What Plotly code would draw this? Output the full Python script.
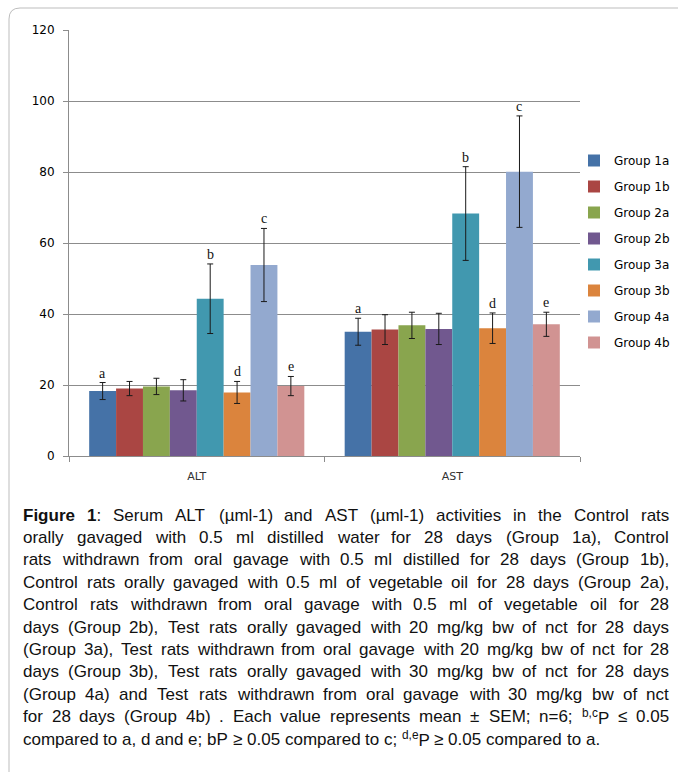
import plotly.graph_objects as go

# ---------------- data ----------------
categories = ["ALT", "AST"]
groups = ["Group 1a", "Group 1b", "Group 2a", "Group 2b",
          "Group 3a", "Group 3b", "Group 4a", "Group 4b"]
colors = ["#4572A7", "#AA4643", "#89A54E", "#71588F",
          "#4198AF", "#DB843D", "#93A9CF", "#D19392"]
alt_mean = [18.3, 19.0, 19.6, 18.5, 44.3, 17.9, 53.8, 19.7]
alt_sem = [2.4, 2.0, 2.3, 3.0, 9.8, 3.1, 10.3, 2.7]
ast_mean = [35.0, 35.6, 36.8, 35.8, 68.3, 36.0, 80.1, 37.1]
ast_sem = [3.8, 4.2, 3.7, 4.4, 13.2, 4.3, 15.7, 3.4]
letters = ["a", "", "", "", "b", "d", "c", "e"]

caption_lines = [
    "<b>Figure</b> <b>1</b>: Serum ALT (µml-1) and AST (µml-1) activities in the Control rats",
    "orally gavaged with 0.5 ml distilled water for 28 days (Group 1a), Control",
    "rats withdrawn from oral gavage with 0.5 ml distilled for 28 days (Group 1b),",
    "Control rats orally gavaged with 0.5 ml of vegetable oil for 28 days (Group 2a),",
    "Control rats withdrawn from oral gavage with 0.5 ml of vegetable oil for 28",
    "days (Group 2b), Test rats orally gavaged with 20 mg/kg bw of nct for 28 days",
    "(Group 3a), Test rats withdrawn from oral gavage with 20 mg/kg bw of nct for 28",
    "days (Group 3b), Test rats orally gavaged with 30 mg/kg bw of nct for 28 days",
    "(Group 4a) and Test rats withdrawn from oral gavage with 30 mg/kg bw of nct",
    "for 28 days (Group 4b) . Each value represents mean ± SEM; n=6; <sup>b,c</sup>P ≤ 0.05",
    "compared to a, d and e; bP ≥ 0.05 compared to c; <sup>d,e</sup>P ≥ 0.05 compared to a.",
]

# ---------------- layout geometry ----------------
W, H = 678, 772
ML, MR, MT, MB = 69, 98, 30, 316
PW = W - ML - MR
PH = H - MT - MB


def px_x(px):
    return (px - ML) / PW


def px_y(py):
    return (H - MB - py) / PH


fig = go.Figure()
for i, g in enumerate(groups):
    fig.add_trace(go.Bar(
        name=g, x=categories, y=[alt_mean[i], ast_mean[i]],
        marker=dict(color=colors[i], line=dict(width=0)),
        error_y=dict(type="data", array=[alt_sem[i], ast_sem[i]],
                     color="#1a1a1a", thickness=1, width=3),
        legendgroup=g,
    ))

cat_px = PW / len(categories)
bargap = 0.158
bar_px = cat_px * (1 - bargap) / len(groups)

annotations = []
for i, lt in enumerate(letters):
    if not lt:
        continue
    for c, (m, s) in enumerate([(alt_mean[i], alt_sem[i]), (ast_mean[i], ast_sem[i])]):
        annotations.append(dict(
            x=categories[c], y=m + s, xref="x", yref="y",
            text=lt, showarrow=False, yanchor="bottom",
            xshift=(i - (len(groups) - 1) / 2) * bar_px, yshift=0,
            font=dict(family="Liberation Serif", size=14, color="#111"),
        ))

# ---------------- justified caption ----------------
AW = {' ': 278, '!': 278, '"': 355, '#': 556, '$': 556, '%': 889, '&': 667, "'": 191,
      '(': 333, ')': 333, '*': 389, '+': 584, ',': 278, '-': 333, '.': 278, '/': 278,
      ':': 278, ';': 278, '<': 584, '=': 584, '>': 584, '?': 556,
      'A': 667, 'B': 667, 'C': 722, 'D': 722, 'E': 667, 'F': 611, 'G': 778, 'H': 722,
      'I': 278, 'J': 500, 'K': 667, 'L': 556, 'M': 833, 'N': 722, 'O': 778, 'P': 667,
      'Q': 778, 'R': 722, 'S': 667, 'T': 611, 'U': 722, 'V': 667, 'W': 944, 'X': 667,
      'Y': 667, 'Z': 611, 'a': 556, 'b': 556, 'c': 500, 'd': 556, 'e': 556, 'f': 278,
      'g': 556, 'h': 556, 'i': 222, 'j': 222, 'k': 500, 'l': 222, 'm': 833, 'n': 556,
      'o': 556, 'p': 556, 'q': 556, 'r': 333, 's': 500, 't': 278, 'u': 556, 'v': 500,
      'w': 722, 'x': 500, 'y': 500, 'z': 500, 'µ': 556, '±': 584, '≤': 549, '≥': 549}
for d in "0123456789":
    AW[d] = 556
BW = {'F': 611, 'i': 278, 'g': 611, 'u': 611, 'r': 389, 'e': 556, '1': 556}


def word_width(word, size):
    w = 0.0
    bold = False
    sup = False
    j = 0
    while j < len(word):
        if word.startswith("<b>", j):
            bold = True; j += 3; continue
        if word.startswith("</b>", j):
            bold = False; j += 4; continue
        if word.startswith("<sup>", j):
            sup = True; j += 5; continue
        if word.startswith("</sup>", j):
            sup = False; j += 6; continue
        ch = word[j]
        cw = (BW.get(ch, AW.get(ch, 556)) if bold else AW.get(ch, 556)) / 1000 * size
        w += cw * (0.7 if sup else 1.0)
        j += 1
    return w


CAP_SIZE = 17
LEFT, RIGHT = 22, 668
TOP_LINE, LINE_H = 515, 22.4
cap_font = dict(family="Liberation Sans, Arial", size=CAP_SIZE, color="#111")
for li, line in enumerate(caption_lines):
    py = TOP_LINE + li * LINE_H
    words = line.split(" ")
    widths = [word_width(w, CAP_SIZE) for w in words]
    last = li == len(caption_lines) - 1
    if last or len(words) < 2:
        gap = AW[' '] / 1000 * CAP_SIZE
    else:
        gap = (RIGHT - LEFT - sum(widths)) / (len(words) - 1)
    x = LEFT
    for w, ww in zip(words, widths):
        annotations.append(dict(
            x=px_x(x), y=px_y(py), xref="paper", yref="paper",
            text=w, showarrow=False, xanchor="left", yanchor="middle",
            font=cap_font, borderpad=0,
        ))
        x += ww + gap

# rounded frame (top + left edges)
frame_path = "M {x0},{y0} L {x0},{y1} Q {x0},{y2} {x3},{y2} L {x4},{y2}".format(
    x0=px_x(9), y0=px_y(H + 5), y1=px_y(19), y2=px_y(8), x3=px_x(20), x4=px_x(W + 5))

fig.update_layout(
    width=W, height=H,
    margin=dict(l=ML, r=MR, t=MT, b=MB, pad=0, autoexpand=False),
    paper_bgcolor="white", plot_bgcolor="white",
    barmode="group", bargap=bargap, bargroupgap=0,
    showlegend=True,
    legend=dict(x=px_x(574), y=px_y(146), xanchor="left", yanchor="top",
                font=dict(family="DejaVu Sans", size=12, color="#000"),
                tracegroupgap=7, itemwidth=30, bgcolor="rgba(0,0,0,0)"),
    xaxis=dict(type="category", showline=True, linecolor="#8c8c8c", linewidth=1,
               ticks="outside", tickson="boundaries", ticklen=5, tickcolor="#8c8c8c",
               showgrid=False, automargin=False,
               tickfont=dict(family="DejaVu Sans", size=11, color="#333"),
               ticklabelstandoff=10),
    yaxis=dict(range=[0, 120], dtick=20, showline=True, linecolor="#8c8c8c", linewidth=1,
               ticks="outside", ticklen=5, tickcolor="#8c8c8c",
               showgrid=True, gridcolor="#8c8c8c", gridwidth=1, zeroline=False,
               automargin=False,
               tickfont=dict(family="DejaVu Sans", size=12, color="#000"),
               ticklabelstandoff=6),
    annotations=annotations,
    shapes=[dict(type="path", path=frame_path, xref="paper", yref="paper",
                 line=dict(color="#bdbdbd", width=1), layer="above")],
)

fig.write_html("out.html", config={"displayModeBar": False},
               post_script="document.body.style.margin='0';document.body.style.overflow='hidden';")
